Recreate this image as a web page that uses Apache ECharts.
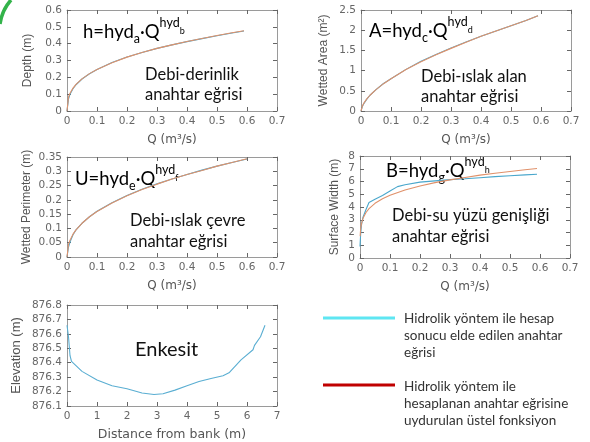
<!DOCTYPE html>
<html><head><meta charset="utf-8">
<script src="https://cdn.jsdelivr.net/npm/echarts@6/dist/echarts.min.js"></script>
<style>html,body{margin:0;padding:0;background:#fff}#c{width:590px;height:442px}</style>
</head><body><div id="c"></div><script>
// ---------- data ----------
const qFlow = [0, 0.005, 0.01, 0.02, 0.03, 0.05, 0.075, 0.1, 0.15, 0.2, 0.25, 0.3, 0.35, 0.4, 0.45, 0.5, 0.55, 0.59];
const depthHyd = [0, 0.07, 0.1, 0.132, 0.156, 0.19, 0.221, 0.247, 0.288, 0.321, 0.348, 0.372, 0.393, 0.412, 0.430, 0.447, 0.463, 0.475];
const depthFit = [0, 0.082, 0.106, 0.136, 0.158, 0.191, 0.222, 0.247, 0.287, 0.320, 0.347, 0.372, 0.393, 0.413, 0.431, 0.449, 0.465, 0.477];
const areaHyd = [0, 0.12, 0.19, 0.30, 0.39, 0.53, 0.68, 0.80, 1.03, 1.23, 1.40, 1.56, 1.71, 1.85, 1.98, 2.11, 2.24, 2.36];
const areaFit = [0, 0.133, 0.20, 0.306, 0.39, 0.53, 0.676, 0.80, 1.025, 1.22, 1.39, 1.55, 1.70, 1.85, 1.98, 2.11, 2.24, 2.36];
const qFlowP = [0, 0.005, 0.01, 0.02, 0.03, 0.05, 0.075, 0.1, 0.15, 0.2, 0.25, 0.3, 0.35, 0.4, 0.45, 0.5, 0.55, 0.6];
const perimHyd = [0, 0.035, 0.052, 0.078, 0.095, 0.118, 0.141, 0.160, 0.190, 0.215, 0.237, 0.256, 0.273, 0.289, 0.304, 0.318, 0.331, 0.343];
const perimFit = [0, 0.044, 0.059, 0.080, 0.095, 0.118, 0.141, 0.159, 0.189, 0.214, 0.236, 0.255, 0.273, 0.289, 0.303, 0.318, 0.331, 0.344];
const qWidthHyd = [0, 0.002, 0.005, 0.01, 0.02, 0.03, 0.05, 0.075, 0.1, 0.125, 0.15, 0.2, 0.25, 0.3, 0.35, 0.4, 0.45, 0.5, 0.55, 0.59];
const widthHyd = [0.9, 1.8, 2.6, 3.2, 3.8, 4.35, 4.6, 4.9, 5.25, 5.6, 5.75, 5.95, 6.05, 6.15, 6.22, 6.3, 6.38, 6.45, 6.52, 6.57];
const qWidthFit = [0.0005, 0.002, 0.005, 0.01, 0.02, 0.03, 0.05, 0.075, 0.1, 0.15, 0.2, 0.25, 0.3, 0.35, 0.4, 0.45, 0.5, 0.55, 0.59];
const widthFit = [1.71, 2.25, 2.70, 3.11, 3.57, 3.87, 4.29, 4.65, 4.92, 5.34, 5.65, 5.91, 6.13, 6.32, 6.50, 6.65, 6.79, 6.92, 7.02];
const bankDist = [0, 0.05, 0.1, 0.15, 0.2, 0.5, 1.0, 1.5, 2.0, 2.5, 2.9, 3.2, 3.6, 4.0, 4.4, 4.8, 5.2, 5.4, 5.8, 6.2, 6.25, 6.45, 6.6];
const bankElev = [876.66, 876.58, 876.45, 876.41, 876.40, 876.34, 876.28, 876.24, 876.22, 876.19, 876.18, 876.185, 876.21, 876.24, 876.27, 876.29, 876.31, 876.33, 876.42, 876.49, 876.52, 876.58, 876.66];
const axisNames = { q: 'Q (m³/s)', depth: 'Depth (m)', area: 'Wetted Area (m²)', perim: 'Wetted Perimeter (m)', width: 'Surface Width (m)', elev: 'Elevation (m)', dist: 'Distance from bank (m)' };
const legendTexts = [
  ['Hidrolik yöntem ile hesap', 'sonucu elde edilen anahtar', 'eğrisi'],
  ['Hidrolik yöntem ile', 'hesaplanan anahtar eğrisine', 'uydurulan üstel fonksiyon']
];
const panelTexts = [['Debi-derinlik', 'anahtar eğrisi'], ['Debi-ıslak alan', 'anahtar eğrisi'], ['Debi-ıslak çevre', 'anahtar eğrisi'], ['Debi-su yüzü genişliği', 'anahtar eğrisi']];
const formulas = [['h', 'a', 'b'], ['A', 'c', 'd'], ['U', 'e', 'f'], ['B', 'g', 'h']];

// ---------- styling ----------
const BLUE = '#4aa7cc', ORANGE = '#e0916a';
const TICKF = 'DejaVu Sans';
function zip(a, b) { return a.map((v, i) => [v, b[i]]); }
function fmt(v) { return String(+v.toFixed(3)); }

const grids = [
  { left: 67, top: 10, width: 210, height: 101 },
  { left: 361, top: 10, width: 210, height: 101 },
  { left: 67, top: 157, width: 210, height: 100 },
  { left: 360, top: 156, width: 210, height: 102 },
  { left: 67, top: 305, width: 210, height: 101 }
];
const xAxes = [], yAxes = [];
function addAxes(gi, xr, yr, xname, yname, yGap, big) {
  const line = { show: true, onZero: false, lineStyle: { color: '#9a9a9a', width: 1 } };
  const tick = { show: true, inside: true, length: 4, lineStyle: { color: '#666' } };
  const lab = { color: '#666', fontFamily: TICKF, fontSize: 10.5, margin: 5 };
  xAxes.push({ gridIndex: gi, type: 'value', position: 'bottom', min: xr[0], max: xr[1], interval: xr[2],
    axisLine: line, axisTick: tick, splitLine: { show: false },
    axisLabel: Object.assign({ formatter: fmt }, lab),
    name: xname, nameLocation: 'middle', nameGap: big ? 22 : 23,
    nameTextStyle: { color: '#555', fontFamily: TICKF, fontSize: big ? 12.5 : 12 } });
  xAxes.push({ gridIndex: gi, type: 'value', position: 'top', min: xr[0], max: xr[1], interval: xr[2],
    axisLine: line, axisTick: tick, splitLine: { show: false }, axisLabel: { show: false } });
  yAxes.push({ gridIndex: gi, type: 'value', position: 'left', min: yr[0], max: yr[1], interval: yr[2],
    axisLine: line, axisTick: tick, splitLine: { show: false },
    axisLabel: Object.assign({ formatter: big ? (v => v.toFixed(1)) : fmt }, lab),
    name: yname, nameLocation: 'middle', nameGap: yGap,
    nameTextStyle: { color: '#555', fontFamily: 'Liberation Sans', fontSize: big ? 13 : 12 } });
  yAxes.push({ gridIndex: gi, type: 'value', position: 'right', min: yr[0], max: yr[1], interval: yr[2],
    axisLine: line, axisTick: tick, splitLine: { show: false }, axisLabel: { show: false } });
}
addAxes(0, [0, 0.7, 0.1], [0, 0.6, 0.1], axisNames.q, axisNames.depth, 33);
addAxes(1, [0, 0.7, 0.1], [0, 2.5, 0.5], axisNames.q, axisNames.area, 31);
addAxes(2, [0, 0.7, 0.1], [0, 0.35, 0.05], axisNames.q, axisNames.perim, 34);
addAxes(3, [0, 0.7, 0.1], [0, 8, 1], axisNames.q, axisNames.width, 19);
addAxes(4, [0, 7, 1], [876.1, 876.8, 0.1], axisNames.dist, axisNames.elev, 44, true);

function ser(gi, data, color) {
  return { type: 'line', xAxisIndex: 2 * gi, yAxisIndex: 2 * gi, data, showSymbol: false, smooth: false,
    lineStyle: { color, width: 1.1 }, silent: true, animation: false };
}
const series = [
  ser(0, zip(qFlow, depthHyd), BLUE), ser(0, zip(qFlow, depthFit), ORANGE),
  ser(1, zip(qFlow, areaHyd), BLUE), ser(1, zip(qFlow, areaFit), ORANGE),
  ser(2, zip(qFlowP, perimHyd), BLUE), ser(2, zip(qFlowP, perimFit), ORANGE),
  ser(3, zip(qWidthHyd, widthHyd), BLUE), ser(3, zip(qWidthFit, widthFit), ORANGE),
  ser(4, zip(bankDist, bankElev), '#5aaed2')
];

// ---------- annotations ----------
const ctx = document.createElement('canvas').getContext('2d');
function tw(t, s) { ctx.font = s + 'px Lato'; return ctx.measureText(t).width; }
function txt(x, y, t, s, color, family) {
  return { type: 'text', x, y, silent: true,
    style: { text: t, font: s + 'px ' + (family || 'Lato'), fill: color || '#111',
      align: 'left', verticalAlign: 'middle', textAlign: 'left', textVerticalAlign: 'middle' } };
}
const graphics = [];
function formula(x, base, f) {
  const M = 18.5, S = 12.5, T = 9;
  const parts = [[f[0] + '=hyd', M, 0], [f[1], S, 5], ['·Q', M, 0], ['hyd', S, -11], [f[2], T, -4]];
  let cx = x;
  for (const [t, s, dy] of parts) {
    graphics.push(txt(cx, base + dy - 0.3 * s, t, s, '#000'));
    cx += tw(t, s);
  }
}
const fpos = [[83, 37.5], [369, 36.7], [75, 185], [386, 176.5]];
fpos.forEach((p, i) => formula(p[0], p[1], formulas[i]));
const dpos = [[145, 75, 94.5], [421, 76.5, 97], [130, 221, 241.5], [392, 216, 237]];
dpos.forEach((p, i) => {
  graphics.push(txt(p[0], p[1], panelTexts[i][0], 16.5, '#111'));
  graphics.push(txt(p[0], p[2], panelTexts[i][1], 16.5, '#111'));
});
graphics.push(txt(135, 350, 'Enkesit', 20, '#111'));
// legend
graphics.push({ type: 'line', silent: true, shape: { x1: 323, y1: 318, x2: 395, y2: 318 }, style: { stroke: '#5ee6f2', lineWidth: 3 } });
graphics.push({ type: 'line', silent: true, shape: { x1: 323, y1: 385, x2: 395, y2: 385 }, style: { stroke: '#c00000', lineWidth: 3 } });
legendTexts[0].forEach((t, i) => graphics.push(txt(404, 318.5 + 17 * i, t, 13.5, '#333')));
legendTexts[1].forEach((t, i) => graphics.push(txt(404, 387 + 17 * i, t, 13.5, '#333')));
// decorative green arc top-left
graphics.push({ type: 'bezierCurve', silent: true, shape: { x1: 0, y1: 24, x2: 11, y2: 0, cpx1: 2, cpy1: 10 }, style: { stroke: '#33b34a', lineWidth: 3.5, fill: null } });

const chart = echarts.init(document.getElementById('c'), null, { renderer: 'canvas' });
chart.setOption({
  animation: false,
  backgroundColor: '#fff',
  grid: grids,
  xAxis: xAxes,
  yAxis: yAxes,
  series,
  graphic: graphics
});
</script></body></html>
